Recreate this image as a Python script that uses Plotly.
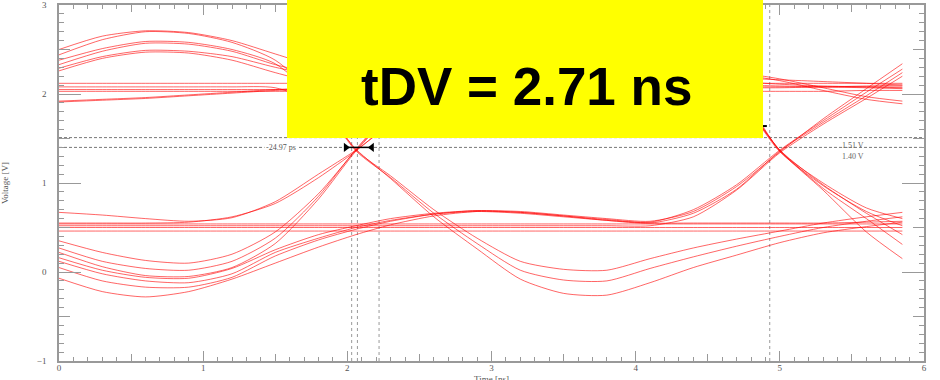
import plotly.graph_objects as go

# ---- sample times (ns) shared by all waveforms ----
t_ns = [0, 0.3, 0.6, 0.9, 1.2, 1.5, 1.8, 2.06, 2.3, 2.6, 2.9, 3.2, 3.5, 3.8, 4.1, 4.4, 4.7, 5.0, 5.3, 5.6, 5.85]

# ---- waveform voltages (V) ----
hi_a = [2.50, 2.65, 2.71, 2.69, 2.60, 2.45, 2.30, 2.20, 2.15, 2.12, 2.11, 2.10, 2.10, 2.10, 2.10, 2.09, 1.98, 1.36, 0.92, 0.45, 0.15]
hi_b = [2.44, 2.61, 2.70, 2.68, 2.58, 2.38, 1.95, 1.37, 1.08, 0.70, 0.38, 0.12, 0.03, 0.02, 0.15, 0.27, 0.37, 0.46, 0.55, 0.62, 0.67]
hi_c = [2.38, 2.51, 2.59, 2.58, 2.50, 2.34, 1.92, 1.36, 1.06, 0.66, 0.32, 0.02, -0.09, -0.10, 0.04, 0.17, 0.29, 0.40, 0.50, 0.57, 0.62]
hi_d = [2.33, 2.48, 2.57, 2.56, 2.48, 2.33, 2.22, 2.16, 2.13, 2.11, 2.10, 2.10, 2.10, 2.10, 2.10, 2.09, 1.97, 1.37, 0.94, 0.60, 0.31]
hi_e = [2.29, 2.42, 2.49, 2.48, 2.42, 2.30, 2.20, 2.14, 2.12, 2.11, 2.10, 2.10, 2.10, 2.10, 2.10, 2.10, 2.10, 2.09, 2.08, 2.07, 2.06]
hi_f = [2.26, 2.40, 2.47, 2.46, 2.38, 2.24, 2.12, 2.08, 2.07, 2.07, 2.07, 2.07, 2.07, 2.07, 2.07, 2.07, 1.96, 1.35, 0.97, 0.68, 0.52]

fh_1 = [2.12, 2.12, 2.12, 2.12, 2.12, 2.12, 2.12, 2.12, 2.12, 2.12, 2.12, 2.12, 2.12, 2.12, 2.12, 2.12, 2.12, 2.12, 2.12, 2.12, 2.12]
fh_2 = [2.08, 2.08, 2.08, 2.08, 2.08, 2.07, 1.88, 1.38, 1.05, 0.62, 0.26, -0.08, -0.24, -0.26, -0.12, 0.05, 0.19, 0.33, 0.44, 0.51, 0.56]
fh_3 = [2.05, 2.05, 2.05, 2.05, 2.05, 2.05, 2.05, 2.05, 2.05, 2.05, 2.05, 2.05, 2.05, 2.05, 2.05, 2.05, 1.95, 1.37, 0.98, 0.66, 0.42]
fh_4 = [2.03, 2.03, 2.03, 2.03, 2.03, 2.03, 2.03, 2.03, 2.03, 2.03, 2.03, 2.03, 2.03, 2.03, 2.03, 2.03, 2.03, 2.03, 2.03, 2.04, 2.04]
rise_hi_1 = [1.92, 1.94, 1.96, 1.99, 2.02, 2.05, 2.07, 2.08, 2.08, 2.08, 2.08, 2.08, 2.08, 2.08, 2.08, 2.08, 2.08, 2.08, 2.08, 2.08, 2.08]
rise_hi_2 = [1.91, 1.93, 1.95, 1.98, 2.01, 2.04, 2.06, 2.07, 2.07, 2.07, 2.07, 2.07, 2.07, 2.07, 2.07, 2.07, 2.07, 2.07, 2.08, 2.09, 2.10]

lo_067 = [0.67, 0.64, 0.60, 0.57, 0.61, 0.79, 1.10, 1.37, 1.66, 1.98, 2.18, 2.28, 2.31, 2.30, 2.28, 2.26, 2.24, 2.17, 2.07, 1.97, 1.92]
lo_rise = [0.55, 0.55, 0.55, 0.56, 0.62, 0.77, 1.06, 1.36, 1.68, 2.00, 2.18, 2.26, 2.28, 2.27, 2.26, 2.25, 2.22, 2.15, 2.04, 1.94, 1.89]
dip_a = [0.35, 0.22, 0.13, 0.10, 0.20, 0.45, 0.88, 1.37, 1.78, 2.10, 2.28, 2.34, 2.34, 2.31, 2.28, 2.24, 2.06, 1.36, 1.00, 0.72, 0.60]
dip_b = [0.27, 0.12, 0.04, 0.02, 0.12, 0.38, 0.85, 1.38, 1.80, 2.13, 2.28, 2.31, 2.29, 2.26, 2.23, 2.20, 2.18, 2.16, 2.14, 2.12, 2.10]
dip_c = [0.22, 0.06, -0.04, -0.05, 0.05, 0.32, 0.82, 1.36, 1.76, 2.10, 2.24, 2.27, 2.25, 2.22, 2.19, 2.16, 2.14, 2.11, 2.09, 2.08, 2.07]
dip_d = [0.16, 0.02, -0.06, -0.07, 0.04, 0.25, 0.42, 0.52, 0.60, 0.66, 0.69, 0.68, 0.64, 0.60, 0.57, 0.68, 0.96, 1.35, 1.72, 2.06, 2.34]
dip_e = [0.05, -0.10, -0.17, -0.17, -0.06, 0.18, 0.36, 0.48, 0.57, 0.65, 0.69, 0.67, 0.63, 0.59, 0.56, 0.70, 0.98, 1.37, 1.70, 2.02, 2.28]
dip_f = [-0.07, -0.22, -0.28, -0.22, -0.08, 0.10, 0.28, 0.42, 0.53, 0.63, 0.68, 0.67, 0.63, 0.58, 0.55, 0.66, 0.93, 1.36, 1.68, 1.98, 2.24]
dip_g = [0.12, -0.02, -0.10, -0.12, -0.02, 0.22, 0.38, 0.50, 0.58, 0.65, 0.68, 0.66, 0.62, 0.58, 0.55, 0.55, 0.55, 0.55, 0.55, 0.56, 0.57]

lo_1 = [0.54, 0.54, 0.54, 0.54, 0.54, 0.54, 0.54, 0.54, 0.54, 0.54, 0.54, 0.54, 0.54, 0.54, 0.54, 0.54, 0.54, 0.54, 0.54, 0.54, 0.54]
lo_2 = [0.50, 0.50, 0.50, 0.50, 0.50, 0.50, 0.50, 0.50, 0.50, 0.50, 0.50, 0.50, 0.50, 0.50, 0.50, 0.50, 0.50, 0.50, 0.50, 0.50, 0.50]
lo_3 = [0.46, 0.46, 0.46, 0.46, 0.46, 0.46, 0.46, 0.46, 0.46, 0.46, 0.46, 0.46, 0.46, 0.46, 0.46, 0.46, 0.46, 0.46, 0.46, 0.46, 0.46]
lo_4 = [0.52, 0.52, 0.52, 0.52, 0.52, 0.52, 0.52, 0.52, 0.52, 0.52, 0.52, 0.52, 0.52, 0.52, 0.52, 0.62, 0.92, 1.34, 1.66, 1.95, 2.20]

# ---- measurement values ----
ref_levels = [1.51, 1.40]          # V, threshold cursors
ref_labels = ["1.51 V", "1.40 V"]
cursor_times = [2.03, 2.07, 2.22, 4.93]   # ns, vertical cursors
skew_arrow_t = [1.99, 2.17]        # ns
skew_arrow_v = [1.40, 1.40]        # V
skew_label = "-24.97 ps"
marker2_t = [4.86, 4.91]
marker2_v = [1.64, 1.64]
tdv_text = "tDV = 2.71 ns"
x_title = "Time [ns]"
y_title = "Voltage [V]"

waveforms = [hi_a, hi_b, hi_c, hi_d, hi_e, hi_f, fh_1, fh_2, fh_3, fh_4,
             rise_hi_1, rise_hi_2, lo_067, lo_rise, dip_a, dip_b, dip_c,
             dip_d, dip_e, dip_f, dip_g, lo_1, lo_2, lo_3, lo_4]

fig = go.Figure()
for v in waveforms:
    fig.add_trace(go.Scatter(x=t_ns, y=v, mode="lines",
                             line=dict(color="rgba(255,0,0,0.6)", width=1, shape="spline", smoothing=0.7),
                             hoverinfo="skip", showlegend=False))

fig.add_trace(go.Scatter(x=skew_arrow_t, y=skew_arrow_v, mode="lines+markers",
                         line=dict(color="black", width=1.5),
                         marker=dict(symbol=["triangle-right", "triangle-left"], size=8, color="black"),
                         hoverinfo="skip", showlegend=False))
fig.add_trace(go.Scatter(x=marker2_t, y=marker2_v, mode="lines",
                         line=dict(color="black", width=2), hoverinfo="skip", showlegend=False))
# invisible trace to bring up the overlay tick axes
fig.add_trace(go.Scatter(x=[None], y=[None], xaxis="x2", yaxis="y2", showlegend=False, hoverinfo="skip"))

shapes = []
for lv in ref_levels:
    shapes.append(dict(type="line", xref="paper", x0=0, x1=1, yref="y", y0=lv, y1=lv,
                       line=dict(color="#777", width=1, dash="3px,2px"), layer="below"))
for ct in cursor_times:
    shapes.append(dict(type="line", xref="x", x0=ct, x1=ct, yref="paper", y0=0, y1=1,
                       line=dict(color="#999", width=1, dash="dot"), layer="below"))
shapes.append(dict(type="rect", xref="paper", yref="paper", x0=0.2636, x1=0.8139, y0=0.6264, y1=1.02,
                   fillcolor="#FFFF00", line=dict(width=0), layer="above"))

annotations = [
    dict(text="<b>" + tdv_text + "</b>", xref="paper", yref="paper", x=0.541, y=0.771,
         xanchor="center", yanchor="middle",
         showarrow=False, font=dict(family="Liberation Sans, Arial", size=53, color="black")),
    dict(text=skew_label, x=1.54, y=ref_levels[1], xref="x", yref="y", showarrow=False,
         bgcolor="white", font=dict(family="Liberation Serif", size=8, color="#555")),
    dict(text=ref_labels[0], x=5.51, y=1.42, xref="x", yref="y", showarrow=False,
         font=dict(family="Liberation Serif", size=8, color="#666")),
    dict(text=ref_labels[1], x=5.51, y=1.30, xref="x", yref="y", showarrow=False,
         font=dict(family="Liberation Serif", size=8, color="#666")),
    dict(text=x_title, xref="paper", yref="paper", x=0.5, y=0, yshift=-11, xanchor="center", yanchor="top",
         showarrow=False, font=dict(family="Liberation Serif", size=9, color="#555")),
]

axcol = "#999"
tickfont = dict(family="Liberation Serif", size=9, color="#555")
fig.update_layout(
    width=940, height=380,
    margin=dict(l=59, r=16, t=5, b=19),
    paper_bgcolor="white", plot_bgcolor="white",
    shapes=shapes, annotations=annotations,
    xaxis=dict(range=[0, 6], dtick=1, tick0=0, ticks="inside", ticklen=10, tickwidth=1, tickcolor=axcol,
               showline=True, linecolor=axcol, linewidth=1.5, mirror="ticks", showgrid=False, zeroline=False,
               minor=dict(dtick=0.1, ticks="inside", ticklen=4, tickcolor=axcol, showgrid=False),
               tickfont=tickfont, automargin=False, ticklabelstandoff=-3),
    yaxis=dict(range=[-1, 3], dtick=1, tick0=0, ticks="inside", ticklen=22, tickwidth=1, tickcolor=axcol,
               showline=True, linecolor=axcol, linewidth=1.5, mirror="ticks", showgrid=False, zeroline=False,
               minor=dict(dtick=0.1, ticks="inside", ticklen=5, tickcolor=axcol, showgrid=False),
               tickfont=tickfont, automargin=False, ticklabelstandoff=9,
               title=dict(text=y_title, font=dict(family="Liberation Serif", size=9, color="#555"), standoff=30)),
    xaxis2=dict(range=[0, 6], overlaying="x", anchor="y", dtick=0.5, tick0=0, ticks="inside", ticklen=7,
                tickcolor=axcol, mirror="ticks", showticklabels=False, showgrid=False, zeroline=False, showline=False),
    yaxis2=dict(range=[-1, 3], overlaying="y", anchor="x", dtick=0.5, tick0=0, ticks="inside", ticklen=11,
                tickcolor=axcol, mirror="ticks", showticklabels=False, showgrid=False, zeroline=False, showline=False),
)

fig.write_html("out.html", config={"displayModeBar": False},
               post_script="document.body.style.margin='0px';document.body.style.overflow='hidden';")
